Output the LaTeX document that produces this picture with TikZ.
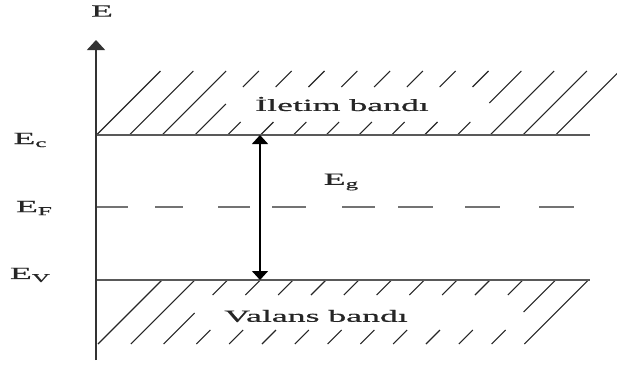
\documentclass[tikz,border=0pt]{standalone}
\usepackage{fontspec}
\usepackage{graphicx}
\setmainfont{Liberation Serif}
\newfontfamily\lblfont[FakeBold=0.6]{Liberation Serif}
\usetikzlibrary{arrows.meta}
\newcommand{\wtxt}[1]{\scalebox{2.1}[1]{#1}}
\newcommand{\sbs}[1]{\raisebox{-3pt}{\fontsize{12}{12}\selectfont #1}}
\begin{document}
\begin{tikzpicture}[x=1pt,y=-1pt,
  lbl/.style={inner sep=0pt, font=\lblfont\fontsize{17}{17}\selectfont, text=black!85},
  bandline/.style={line width=1.3pt, draw=black!65},
  hatch/.style={line width=1.1pt, draw=black!85},
  fermi/.style={line width=1.1pt, draw=black!55},
  axisline/.style={line width=1.5pt, draw=black!80},
  gapline/.style={line width=1.5pt, draw=black}]
\useasboundingbox (0,0) rectangle (617,368);

% coordinates
\coordinate (axb) at (96,360);
\coordinate (axt) at (96,40);
\coordinate (ec0) at (96,135);
\coordinate (ec1) at (590,135);
\coordinate (ev0) at (96,280);
\coordinate (ev1) at (590,280);
\coordinate (gtop) at (260,135);
\coordinate (gbot) at (260,280);

% top band hatch
\foreach \k in {0,1,2,12,13,14}{
  \pgfmathsetmacro\xo{96.5+32.8*\k}
  \draw[hatch] (\xo,135) -- ({\xo+64},71);
}
\pgfmathsetmacro\xo{96.5+32.8*3}
\draw[hatch] (\xo,135) -- ({\xo+31},104);
\draw[hatch] ({\xo+48},87) -- ({\xo+64},71);
\foreach \k in {4,...,10}{
  \pgfmathsetmacro\xo{96.5+32.8*\k}
  \draw[hatch] (\xo,135) -- ({\xo+13},122);
  \draw[hatch] ({\xo+48},87) -- ({\xo+64},71);
}
\pgfmathsetmacro\xo{96.5+32.8*11}
\draw[hatch] (\xo,135) -- ({\xo+13},122);
\draw[hatch] ({\xo+32},103) -- ({\xo+64},71);

% bottom band hatch
\foreach \k in {0,1,13}{
  \pgfmathsetmacro\xt{162+32.8*\k}
  \draw[hatch] (\xt,280) -- ({\xt-64},344);
}
\pgfmathsetmacro\xt{162+32.8*2}
\draw[hatch] (\xt,280) -- ({\xt-15},295);
\draw[hatch] ({\xt-33},313) -- ({\xt-64},344);
\foreach \k in {3,...,11}{
  \pgfmathsetmacro\xt{162+32.8*\k}
  \draw[hatch] (\xt,280) -- ({\xt-15},295);
  \draw[hatch] ({\xt-50},330) -- ({\xt-64},344);
}
\pgfmathsetmacro\xt{162+32.8*12}
\draw[hatch] (\xt,280) -- ({\xt-32},312);
\draw[hatch] ({\xt-50},330) -- ({\xt-64},344);

% band edges
\draw[bandline] (ec0) -- (ec1);
\draw[bandline] (ev0) -- (ev1);

% Fermi level
\foreach \a/\b in {97/128,155/183,218/250,272/306,342/375,398/433,465/500,539/574}{
  \draw[fermi] (\a,207) -- (\b,207);
}

% axis
\draw[axisline, -{Triangle[length=10pt,width=18pt]}] (axb) -- (axt);

% gap arrow
\draw[gapline, {Triangle[length=9pt,width=16pt]}-{Triangle[length=9pt,width=16pt]}] (gtop) -- (gbot);

% labels
\node[lbl] (nE) at (102,11) {\wtxt{E}};
\node[lbl] (nEc) at (30,140) {\wtxt{E\sbs{c}}};
\node[lbl] (nEF) at (34,208) {\wtxt{E\sbs{F}}};
\node[lbl] (nEV) at (30,275) {\wtxt{E\sbs{V}}};
\node[lbl] (nEg) at (341,182) {\wtxt{E\sbs{g}}};
\node[lbl] (niletim) at (342,104) {\wtxt{İletim bandı}};
\node[lbl] (nvalans) at (316,316) {\wtxt{Valans bandı}};
\end{tikzpicture}
\end{document}
